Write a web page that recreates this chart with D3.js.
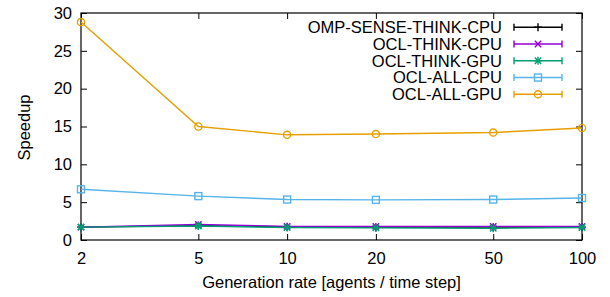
<!DOCTYPE html>
<head>
  <meta charset="utf-8">
  <script src="https://d3js.org/d3.v7.min.js"></script>
  <style>
    body { margin: 0; background: #fff; }
    text {
      font-family: 'Liberation Sans', Arial, sans-serif;
      font-size: 16.5px;
      fill: #000;
    }
    .axis .domain { display: none; }
    .axis .tick line { stroke: #000; stroke-width: 1; }
  </style>
</head>
<body>
  <div id="chart"></div>
  <script>
    // data
    var rates = [2, 5, 10, 20, 50, 100];
    var yTicks = [0, 5, 10, 15, 20, 25, 30];
    var seriesNames = ["OMP-SENSE-THINK-CPU", "OCL-THINK-CPU", "OCL-THINK-GPU", "OCL-ALL-CPU", "OCL-ALL-GPU"];
    var ompSenseThinkCpu = [1.7, 1.9, 1.75, 1.7, 1.7, 1.7];
    var oclThinkCpu = [1.7, 2.05, 1.8, 1.8, 1.8, 1.8];
    var oclThinkGpu = [1.7, 1.85, 1.65, 1.6, 1.55, 1.65];
    var oclAllCpu = [6.7, 5.8, 5.35, 5.3, 5.35, 5.55];
    var oclAllGpu = [28.8, 15.0, 13.9, 14.0, 14.2, 14.8];

    var colors = ["#000000", "#9400d3", "#009e73", "#56b4e9", "#e69f00"];
    var markers = ["plus", "cross", "star", "square", "circle"];
    var values = [ompSenseThinkCpu, oclThinkCpu, oclThinkGpu, oclAllCpu, oclAllGpu];

    var W = 610, H = 297;
    var margin = {top: 13, right: 28, bottom: 57, left: 81};
    var width = W - margin.left - margin.right,
      height = H - margin.top - margin.bottom;

    var svg = d3.select("#chart").append("svg")
      .attr("width", W)
      .attr("height", H);

    var g = svg.append("g")
      .attr("transform", "translate(" + margin.left + "," + margin.top + ")");

    var x = d3.scaleLog().domain([2, 100]).range([0, width]);
    var y = d3.scaleLinear().domain([0, 30]).range([height, 0]);

    // axes, ticks pointing inward and mirrored
    g.append("g").attr("class", "axis")
      .attr("transform", "translate(0," + height + ")")
      .call(d3.axisBottom(x).tickValues(rates).tickFormat(d3.format("d"))
        .tickSize(-6).tickSizeOuter(0).tickPadding(12));
    g.append("g").attr("class", "axis")
      .call(d3.axisTop(x).tickValues(rates).tickFormat("")
        .tickSize(-6).tickSizeOuter(0));
    g.append("g").attr("class", "axis")
      .call(d3.axisLeft(y).tickValues(yTicks)
        .tickSize(-6).tickSizeOuter(0).tickPadding(9));
    g.append("g").attr("class", "axis")
      .attr("transform", "translate(" + width + ",0)")
      .call(d3.axisRight(y).tickValues(yTicks).tickFormat("")
        .tickSize(-6).tickSizeOuter(0));

    g.selectAll(".axis text").style("font-size", "16.5px").style("font-family", "'Liberation Sans', Arial, sans-serif");

    g.append("rect")
      .attr("width", width)
      .attr("height", height)
      .attr("fill", "none")
      .attr("stroke", "#000")
      .attr("stroke-width", 1.2);

    function drawMarker(sel, type, color, cx, cy) {
      var m = sel.append("g").attr("transform", "translate(" + cx + "," + cy + ")")
        .attr("stroke", color).attr("stroke-width", 1.4).attr("fill", "none");
      var s = 4;
      if (type === "plus" || type === "star") {
        m.append("path").attr("d", "M" + (-s) + ",0H" + s + "M0," + (-s) + "V" + s);
      }
      if (type === "cross" || type === "star") {
        var c = 3.2;
        m.append("path").attr("d", "M" + (-c) + "," + (-c) + "L" + c + "," + c + "M" + (-c) + "," + c + "L" + c + "," + (-c));
      }
      if (type === "square") {
        m.append("rect").attr("x", -3.5).attr("y", -3.5).attr("width", 7).attr("height", 7);
      }
      if (type === "circle") {
        m.append("circle").attr("r", 3.6);
      }
    }

    var line = d3.line()
      .x(function (d, i) { return x(rates[i]); })
      .y(function (d) { return y(d); });

    values.forEach(function (vals, k) {
      g.append("path")
        .datum(vals)
        .attr("fill", "none")
        .attr("stroke", colors[k])
        .attr("stroke-width", 1.4)
        .attr("d", line);
      vals.forEach(function (v, i) {
        drawMarker(g, markers[k], colors[k], x(rates[i]), y(v));
      });
    });

    // legend
    var legend = svg.append("g");
    seriesNames.forEach(function (name, k) {
      var ly = 27.3 + k * 16.75;
      legend.append("text")
        .attr("x", 502)
        .attr("y", ly)
        .attr("dy", "0.36em")
        .attr("text-anchor", "end")
        .text(name);
      legend.append("path")
        .attr("d", "M514," + ly + "H562M514," + (ly - 3.5) + "V" + (ly + 3.5) + "M562," + (ly - 3.5) + "V" + (ly + 3.5))
        .attr("stroke", colors[k])
        .attr("stroke-width", 1.4)
        .attr("fill", "none");
      drawMarker(legend, markers[k], colors[k], 538, ly);
    });

    // axis titles
    svg.append("text")
      .attr("x", margin.left + width / 2)
      .attr("y", 282)
      .attr("dy", "0.36em")
      .attr("text-anchor", "middle")
      .text("Generation rate [agents / time step]");
    svg.append("text")
      .attr("transform", "translate(24," + 127.5 + ") rotate(-90)")
      .attr("dy", "0.36em")
      .attr("text-anchor", "middle")
      .text("Speedup");
  </script>
</body>
